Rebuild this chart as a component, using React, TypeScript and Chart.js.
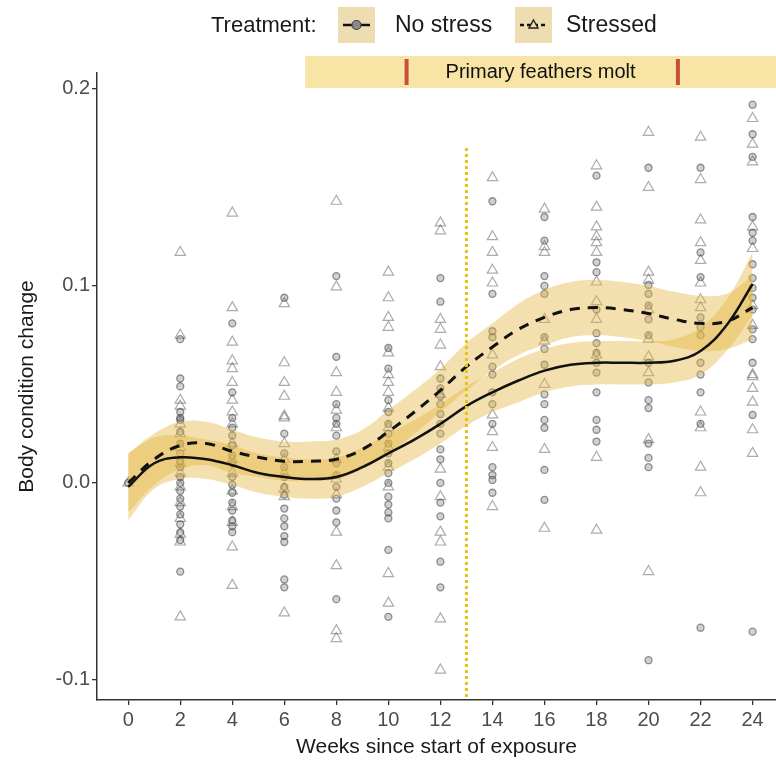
import { useEffect, useRef } from "react";
import { Chart, registerables } from "chart.js";

Chart.register(...registerables);

// Sampling weeks for the raw observations
const WEEKS = [0, 2, 4, 6, 8, 10, 12, 14, 16, 18, 20, 22, 24];

// Body condition change per bird, grouped by week (same order as WEEKS)
const NO_STRESS: number[][] = [
  [0],
  [0.073, 0.053, 0.049, 0.036, 0.033, 0.032, 0.026, 0.02, 0.015, 0.011, 0.008, 0.003, 0.0, -0.004, -0.008, -0.012, -0.016, -0.021, -0.025, -0.029, -0.045],
  [0.081, 0.046, 0.033, 0.028, 0.024, 0.019, 0.014, 0.01, 0.003, -0.001, -0.005, -0.01, -0.014, -0.019, -0.022, -0.025],
  [0.094, 0.025, 0.015, 0.008, 0.003, -0.002, -0.006, -0.013, -0.018, -0.022, -0.027, -0.03, -0.049, -0.053],
  [0.105, 0.064, 0.04, 0.033, 0.03, 0.024, 0.016, 0.01, 0.004, -0.002, -0.008, -0.014, -0.02, -0.059],
  [0.0685, 0.058, 0.042, 0.036, 0.03, 0.025, 0.02, 0.015, 0.01, 0.005, 0.0, -0.007, -0.011, -0.015, -0.018, -0.034, -0.068],
  [0.104, 0.092, 0.053, 0.048, 0.044, 0.04, 0.035, 0.03, 0.025, 0.017, 0.012, 0.0, -0.01, -0.017, -0.04, -0.053],
  [0.143, 0.096, 0.077, 0.074, 0.059, 0.055, 0.046, 0.04, 0.03, 0.008, 0.004, 0.0015, -0.005],
  [0.135, 0.123, 0.105, 0.1, 0.096, 0.074, 0.068, 0.06, 0.045, 0.04, 0.032, 0.028, 0.0066, -0.0086],
  [0.156, 0.112, 0.107, 0.088, 0.076, 0.071, 0.066, 0.061, 0.056, 0.046, 0.032, 0.027, 0.021],
  [0.16, 0.1005, 0.096, 0.09, 0.083, 0.075, 0.061, 0.051, 0.042, 0.038, 0.02, 0.0127, 0.008, -0.09],
  [0.16, 0.117, 0.1045, 0.084, 0.079, 0.075, 0.061, 0.055, 0.046, 0.03, -0.0735],
  [0.192, 0.177, 0.1655, 0.135, 0.127, 0.123, 0.111, 0.104, 0.099, 0.094, 0.088, 0.078, 0.073, 0.061, 0.0345, -0.0755],
];

const STRESSED: number[][] = [
  [0],
  [0.117, 0.075, 0.042, 0.039, 0.03, 0.025, 0.018, 0.01, 0.005, -0.002, -0.01, -0.018, -0.026, -0.03, -0.068],
  [0.137, 0.089, 0.0715, 0.062, 0.058, 0.051, 0.042, 0.036, 0.03, 0.02, 0.012, 0.005, -0.004, -0.012, -0.02, -0.0325, -0.052],
  [0.091, 0.061, 0.051, 0.044, 0.034, 0.033, 0.02, 0.012, 0.005, -0.003, -0.007, -0.066],
  [0.143, 0.0995, 0.056, 0.046, 0.037, 0.028, 0.012, 0.002, -0.006, -0.025, -0.042, -0.075, -0.079],
  [0.107, 0.094, 0.084, 0.079, 0.066, 0.055, 0.051, 0.046, 0.038, 0.028, 0.018, 0.008, -0.002, -0.046, -0.061],
  [0.132, 0.128, 0.083, 0.078, 0.07, 0.059, 0.045, 0.007, -0.007, -0.025, -0.03, -0.069, -0.095],
  [0.155, 0.125, 0.117, 0.108, 0.1015, 0.065, 0.0345, 0.026, 0.018, -0.012],
  [0.139, 0.12, 0.117, 0.083, 0.072, 0.05, 0.017, -0.023],
  [0.161, 0.14, 0.13, 0.125, 0.122, 0.117, 0.102, 0.092, 0.083, 0.065, 0.013, -0.024],
  [0.178, 0.15, 0.107, 0.103, 0.088, 0.073, 0.064, 0.056, 0.022, -0.045],
  [0.1755, 0.154, 0.1335, 0.122, 0.113, 0.1015, 0.093, 0.089, 0.036, 0.028, 0.008, -0.005],
  [0.185, 0.172, 0.163, 0.13, 0.119, 0.09, 0.08, 0.055, 0.054, 0.048, 0.041, 0.027, 0.015],
];

// Smoothed trend and its confidence band, one value per week 0..24
const FIT_WEEKS = [0, 1, 2, 3, 4, 5, 6, 7, 8, 9, 10, 11, 12, 13, 14, 15, 16, 17, 18, 19, 20, 21, 22, 23, 24];
const NO_STRESS_FIT = [-0.002, 0.01, 0.013, 0.012, 0.009, 0.005, 0.003, 0.002, 0.003, 0.008, 0.015, 0.022, 0.03, 0.039, 0.046, 0.052, 0.057, 0.06, 0.061, 0.061, 0.061, 0.062, 0.067, 0.08, 0.101];
const NO_STRESS_HIGH = [0.015, 0.023, 0.024, 0.022, 0.019, 0.015, 0.013, 0.012, 0.013, 0.018, 0.025, 0.032, 0.04, 0.049, 0.056, 0.063, 0.068, 0.071, 0.072, 0.072, 0.072, 0.073, 0.079, 0.093, 0.117];
const NO_STRESS_LOW = [-0.019, -0.003, 0.002, 0.002, -0.001, -0.005, -0.007, -0.008, -0.007, -0.002, 0.005, 0.012, 0.02, 0.029, 0.036, 0.041, 0.046, 0.049, 0.05, 0.05, 0.05, 0.051, 0.055, 0.067, 0.085];
const STRESSED_FIT = [0.0, 0.012, 0.019, 0.02, 0.016, 0.013, 0.011, 0.011, 0.012, 0.017, 0.026, 0.036, 0.047, 0.059, 0.069, 0.078, 0.084, 0.088, 0.089, 0.088, 0.086, 0.083, 0.081, 0.082, 0.089];
const STRESSED_HIGH = [0.015, 0.025, 0.031, 0.031, 0.027, 0.023, 0.021, 0.021, 0.022, 0.027, 0.037, 0.047, 0.058, 0.071, 0.081, 0.091, 0.098, 0.102, 0.103, 0.102, 0.1, 0.097, 0.095, 0.096, 0.105];
const STRESSED_LOW = [-0.015, -0.001, 0.007, 0.009, 0.005, 0.003, 0.001, 0.001, 0.002, 0.007, 0.015, 0.025, 0.036, 0.047, 0.057, 0.065, 0.07, 0.074, 0.075, 0.074, 0.072, 0.069, 0.067, 0.068, 0.073];

const X_TICKS = [0, 2, 4, 6, 8, 10, 12, 14, 16, 18, 20, 22, 24];
const Y_TICKS = [-0.1, 0.0, 0.1, 0.2];

// Annotation weeks
const EXPOSURE_WEEK = 13;
const EXPOSURE_LINE_TOP = 0.17;
const MOLT_BAND_FROM = 6.8;
const MOLT_START = 10.7;
const MOLT_END = 21.13;

const FONT = "'Liberation Sans', Arial, sans-serif";
const RIBBON = "rgba(228, 180, 62, 0.42)";

const toPoints = (groups: number[][]) =>
  groups.flatMap((vals, i) => vals.map((v) => ({ x: WEEKS[i], y: v })));
const toCurve = (vals: number[]) => vals.map((v, i) => ({ x: FIT_WEEKS[i], y: v }));

const annotations = {
  id: "annotations",
  afterDatasetsDraw(chart: any) {
    const { ctx, scales, chartArea } = chart;
    const px = scales.x.getPixelForValue(EXPOSURE_WEEK);
    ctx.save();
    ctx.strokeStyle = "#E3C515";
    ctx.lineWidth = 3;
    ctx.setLineDash([3, 3]);
    ctx.beginPath();
    ctx.moveTo(px, scales.y.getPixelForValue(EXPOSURE_LINE_TOP));
    ctx.lineTo(px, chartArea.bottom);
    ctx.stroke();
    ctx.restore();
  },
  afterDraw(chart: any) {
    const { ctx, scales, width } = chart;
    ctx.save();

    // Molt period band
    const bandLeft = scales.x.getPixelForValue(MOLT_BAND_FROM);
    ctx.fillStyle = "#F8E4A4";
    ctx.fillRect(bandLeft, 56, width - bandLeft, 32);
    ctx.strokeStyle = "#C8503A";
    ctx.lineWidth = 4;
    [MOLT_START, MOLT_END].forEach((w) => {
      const p = scales.x.getPixelForValue(w);
      ctx.beginPath();
      ctx.moveTo(p, 59);
      ctx.lineTo(p, 85);
      ctx.stroke();
    });
    ctx.fillStyle = "#111";
    ctx.font = `20px ${FONT}`;
    ctx.textAlign = "center";
    ctx.textBaseline = "middle";
    ctx.fillText("Primary feathers molt", (bandLeft + width) / 2, 72);

    // Legend
    ctx.textAlign = "left";
    ctx.fillStyle = "#1a1a1a";
    ctx.font = `22px ${FONT}`;
    ctx.fillText("Treatment:", 211, 26);
    ctx.font = `23px ${FONT}`;
    ctx.fillText("No stress", 395, 26);
    ctx.fillText("Stressed", 566, 26);

    const keys = [
      { x: 338, dashed: false },
      { x: 515, dashed: true },
    ];
    keys.forEach((k) => {
      ctx.fillStyle = "#EFDDB2";
      ctx.fillRect(k.x, 7, 37, 36);
      const cy = 25;
      ctx.strokeStyle = "#111";
      ctx.lineWidth = 2.5;
      ctx.setLineDash(k.dashed ? [4, 3] : []);
      ctx.beginPath();
      ctx.moveTo(k.x + 5, cy);
      ctx.lineTo(k.x + 32, cy);
      ctx.stroke();
      ctx.setLineDash([]);
      const cx = k.x + 18.5;
      if (!k.dashed) {
        ctx.fillStyle = "#8a8a8a";
        ctx.strokeStyle = "#444";
        ctx.lineWidth = 1.2;
        ctx.beginPath();
        ctx.arc(cx, cy, 4.5, 0, Math.PI * 2);
        ctx.fill();
        ctx.stroke();
      } else {
        ctx.fillStyle = "#EFDDB2";
        ctx.strokeStyle = "#222";
        ctx.lineWidth = 1.4;
        ctx.beginPath();
        ctx.moveTo(cx, cy - 5);
        ctx.lineTo(cx + 4.5, cy + 3);
        ctx.lineTo(cx - 4.5, cy + 3);
        ctx.closePath();
        ctx.fill();
        ctx.stroke();
      }
    });
    ctx.restore();
  },
};

export default function App() {
  const canvasRef = useRef<HTMLCanvasElement | null>(null);

  useEffect(() => {
    const canvas = canvasRef.current;
    if (!canvas) return;

    const ribbon = (data: number[], fill: any) => ({
      type: "line" as const,
      data: toCurve(data),
      borderColor: "transparent",
      borderWidth: 0,
      pointRadius: 0,
      tension: 0.4,
      fill,
      backgroundColor: RIBBON,
      order: 3,
    });

    const chart = new Chart(canvas, {
      type: "scatter",
      data: {
        datasets: [
          ribbon(NO_STRESS_HIGH, "+1"),
          ribbon(NO_STRESS_LOW, false),
          ribbon(STRESSED_HIGH, "+1"),
          ribbon(STRESSED_LOW, false),
          {
            type: "line",
            label: "No stress fit",
            data: toCurve(NO_STRESS_FIT),
            borderColor: "#111",
            borderWidth: 2.5,
            pointRadius: 0,
            tension: 0.4,
            fill: false,
            order: 1,
          },
          {
            type: "line",
            label: "Stressed fit",
            data: toCurve(STRESSED_FIT),
            borderColor: "#111",
            borderWidth: 3,
            borderDash: [10, 8],
            pointRadius: 0,
            tension: 0.4,
            fill: false,
            order: 1,
          },
          {
            label: "No stress",
            data: toPoints(NO_STRESS),
            pointStyle: "circle",
            pointRadius: 3.5,
            backgroundColor: "rgba(100,100,100,0.3)",
            borderColor: "rgba(60,60,60,0.55)",
            borderWidth: 1.3,
            order: 5,
          },
          {
            label: "Stressed",
            data: toPoints(STRESSED),
            pointStyle: "triangle",
            pointRadius: 6,
            backgroundColor: "rgba(0,0,0,0)",
            borderColor: "rgba(90,90,90,0.5)",
            borderWidth: 1.2,
            order: 5,
          },
        ] as any,
      },
      options: {
        animation: false,
        responsive: false,
        devicePixelRatio: 1,
        layout: { autoPadding: false, padding: { top: 73, right: 0, left: 0, bottom: 0 } },
        plugins: { legend: { display: false }, tooltip: { enabled: false } },
        scales: {
          x: {
            type: "linear",
            min: -1.2,
            max: 24.9,
            afterBuildTicks: (s: any) => {
              s.ticks = X_TICKS.map((v) => ({ value: v }));
            },
            afterFit: (s: any) => {
              s.height = 66;
            },
            ticks: {
              callback: (v: any) => String(v),
              color: "#4d4d4d",
              font: { family: FONT, size: 20 },
              padding: 3,
              maxRotation: 0,
            },
            grid: { drawOnChartArea: false, drawTicks: true, tickLength: 5, color: "#333", lineWidth: 1.3 },
            border: { display: true, color: "#333", width: 1.5 },
            title: {
              display: true,
              text: "Weeks since start of exposure",
              color: "#1a1a1a",
              font: { family: FONT, size: 21 },
              padding: { top: 0, bottom: 6 },
            },
          },
          y: {
            type: "linear",
            min: -0.1102,
            max: 0.2081,
            afterBuildTicks: (s: any) => {
              s.ticks = Y_TICKS.map((v) => ({ value: v }));
            },
            afterFit: (s: any) => {
              s.width = 97;
            },
            ticks: {
              callback: (v: any) => Number(v).toFixed(1),
              color: "#4d4d4d",
              font: { family: FONT, size: 20 },
              padding: 2,
            },
            grid: { drawOnChartArea: false, drawTicks: true, tickLength: 5, color: "#333", lineWidth: 1.3 },
            border: { display: true, color: "#333", width: 1.5 },
            title: {
              display: true,
              text: "Body condition change",
              color: "#1a1a1a",
              font: { family: FONT, size: 21 },
              padding: { top: 15, bottom: 0 },
            },
          },
        },
      },
      plugins: [annotations],
    });

    return () => chart.destroy();
  }, []);

  return (
    <div style={{ position: "fixed", left: 0, top: 0, width: 776, height: 766, background: "#fff" }}>
      <canvas ref={canvasRef} width={776} height={766} />
    </div>
  );
}
